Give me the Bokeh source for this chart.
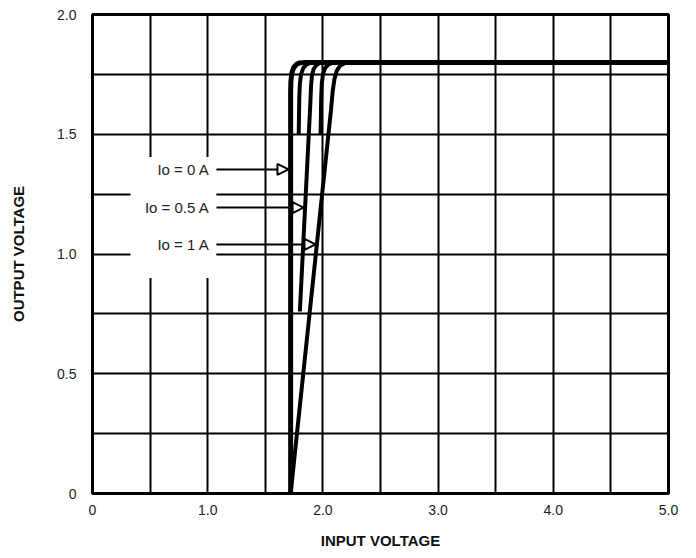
from bokeh.plotting import figure
from bokeh.models import FixedTicker, Arrow, NormalHead, Label, Range1d
from bokeh.embed import file_html
from bokeh.resources import INLINE

# ---- data ----
x_ticks = [0, 1, 2, 3, 4, 5]
x_tick_labels = ["0", "1.0", "2.0", "3.0", "4.0", "5.0"]
y_ticks = [0, 0.5, 1.0, 1.5, 2.0]
y_tick_labels = ["0", "0.5", "1.0", "1.5", "2.0"]
x_grid = [0, 0.5, 1.0, 1.5, 2.0, 2.5, 3.0, 3.5, 4.0, 4.5, 5.0]
y_grid = [0, 0.25, 0.5, 0.75, 1.0, 1.25, 1.5, 1.75, 2.0]

io0_x = [1.72, 1.72, 1.722, 1.73, 1.745, 1.77, 1.80, 1.85, 5.0]
io0_y = [0.0, 1.68, 1.72, 1.755, 1.777, 1.792, 1.798, 1.80, 1.80]

mid1_x = [1.79, 1.795, 1.80, 1.81, 1.83, 1.86, 1.90, 1.95]
mid1_y = [1.50, 1.65, 1.71, 1.75, 1.777, 1.792, 1.799, 1.80]

io05_x = [1.80, 1.89, 1.897, 1.905, 1.92, 1.945, 1.975, 2.02]
io05_y = [0.76, 1.62, 1.70, 1.745, 1.773, 1.79, 1.798, 1.80]

mid2_x = [1.98, 1.985, 1.99, 2.00, 2.02, 2.05, 2.09, 2.14]
mid2_y = [1.50, 1.65, 1.71, 1.75, 1.777, 1.792, 1.799, 1.80]

io1_x = [1.72, 2.07, 2.085, 2.10, 2.12, 2.15, 2.19, 2.25]
io1_y = [0.0, 1.60, 1.68, 1.73, 1.765, 1.787, 1.797, 1.80]

label_texts = ["Io = 0 A", "Io = 0.5 A", "Io = 1 A"]
label_y = [1.353, 1.194, 1.040]
arrow_tip_x = [1.701, 1.832, 1.936]

FONT = "Liberation Sans"

p = figure(width=696, height=558, output_backend="svg", toolbar_location=None,
           x_range=Range1d(0, 5), y_range=Range1d(0, 2),
           min_border_left=92, min_border_right=28, min_border_top=14, min_border_bottom=65)
p.background_fill_color = "white"
p.border_fill_color = "white"
p.outline_line_color = "black"
p.outline_line_width = 3

p.xaxis.ticker = FixedTicker(ticks=x_ticks)
p.xaxis.major_label_overrides = {t: l for t, l in zip(x_ticks, x_tick_labels)}
p.yaxis.ticker = FixedTicker(ticks=y_ticks)
p.yaxis.major_label_overrides = {t: l for t, l in zip(y_ticks, y_tick_labels)}

p.xgrid.ticker = FixedTicker(ticks=x_grid)
p.ygrid.ticker = FixedTicker(ticks=y_grid)
for g in (p.xgrid, p.ygrid):
    g.grid_line_color = "black"
    g.grid_line_width = 2
    g.grid_line_alpha = 1.0

for ax in (p.xaxis, p.yaxis):
    ax.axis_line_color = None
    ax.major_tick_line_color = None
    ax.minor_tick_line_color = None
    ax.major_label_text_font = FONT
    ax.major_label_text_font_size = "14px"
    ax.major_label_text_color = "#222222"
    ax.axis_label_text_font = FONT
    ax.axis_label_text_font_size = "15px"
    ax.axis_label_text_font_style = "bold"
    ax.axis_label_text_color = "#111111"

p.xaxis.axis_label = "INPUT VOLTAGE"
p.yaxis.axis_label = "OUTPUT VOLTAGE"
p.xaxis.major_label_standoff = 5
p.xaxis.axis_label_standoff = 14
p.yaxis.major_label_standoff = 10
p.yaxis.axis_label_standoff = 27

# white box behind labels (masks grid)
p.quad(left=[0.33], right=[1.075], bottom=[0.90], top=[1.405],
       fill_color="white", line_color=None)

# curves
p.line(io0_x, io0_y, line_color="black", line_width=5)
p.line(mid1_x, mid1_y, line_color="black", line_width=4)
p.line(io05_x, io05_y, line_color="black", line_width=4)
p.line(mid2_x, mid2_y, line_color="black", line_width=4)
p.line(io1_x, io1_y, line_color="black", line_width=4)

# labels + arrows
for txt, yy, tip in zip(label_texts, label_y, arrow_tip_x):
    p.add_layout(Label(x=1.016, y=yy, text=txt, text_align="right",
                       text_baseline="middle", text_font=FONT,
                       text_font_size="15px", text_color="#222222"))
    p.add_layout(Arrow(x_start=1.076, y_start=yy, x_end=tip, y_end=yy,
                       line_color="black", line_width=2,
                       end=NormalHead(size=11, fill_color="white",
                                      line_color="black", line_width=2)))

p.add_layout(Label(x=4.52, y=-0.23, text="Doc CK 038", text_baseline="top",
                   text_font=FONT, text_font_size="9px", text_color="#333333"))

open("out.html", "w").write(file_html(p, INLINE))
